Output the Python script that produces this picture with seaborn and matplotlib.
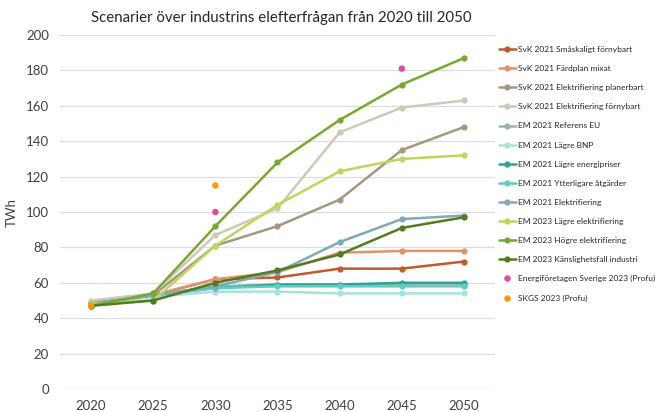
import matplotlib
matplotlib.use("Agg")
import matplotlib.pyplot as plt
import seaborn as sns
import pandas as pd

years = ["2020", "2025", "2030", "2035", "2040", "2045", "2050"]

series_names = [
    "SvK 2021 Småskaligt förnybart",
    "SvK 2021 Färdplan mixat",
    "SvK 2021 Elektrifiering planerbart",
    "SvK 2021 Elektrifiering förnybart",
    "EM 2021 Referens EU",
    "EM 2021 Lägre BNP",
    "EM 2021 Lägre energipriser",
    "EM 2021 Ytterligare åtgärder",
    "EM 2021 Elektrifiering",
    "EM 2023 Lägre elektrifiering",
    "EM 2023 Högre elektrifiering",
    "EM 2023 Känslighetsfall industri",
]

svk_smaskaligt = [48, 53, 62, 63, 68, 68, 72]
svk_fardplan = [48, 53, 62, 66, 77, 78, 78]
svk_planerbart = [49, 53, 81, 92, 107, 135, 148]
svk_fornybart = [50, 54, 87, 102, 145, 159, 163]
em_referens = [48, 53, 58, 59, 59, 59, 59]
em_lagre_bnp = [48, 52, 55, 55, 54, 54, 54]
em_energipriser = [48, 53, 57, 59, 59, 60, 60]
em_ytterligare = [48, 53, 57, 58, 58, 58, 58]
em_elektrifiering = [48, 53, 58, 66, 83, 96, 98]
em23_lagre = [48, 50, 81, 104, 123, 130, 132]
em23_hogre = [47, 54, 92, 128, 152, 172, 187]
em23_kanslighet = [47, 50, 60, 67, 76, 91, 97]

series_values = [
    svk_smaskaligt, svk_fardplan, svk_planerbart, svk_fornybart,
    em_referens, em_lagre_bnp, em_energipriser, em_ytterligare,
    em_elektrifiering, em23_lagre, em23_hogre, em23_kanslighet,
]

series_colors = [
    "#C4592A", "#E3936B", "#A6977F", "#D2C8B9",
    "#9DB7A2", "#A9E2DD", "#2BA595", "#5FCDC4",
    "#7FAAB6", "#BDD75B", "#78A832", "#537B22",
]

point_names = ["Energiföretagen Sverige 2023 (Profu)", "SKGS 2023 (Profu)"]
energiforetagen_years = ["2030", "2045"]
energiforetagen_values = [100, 181]
skgs_years = ["2020", "2030"]
skgs_values = [47, 115]
point_colors = ["#D94FA3", "#FF9A00"]

# Long-format tables for seaborn
rows = []
for name, vals in zip(series_names, series_values):
    for yr, v in zip(years, vals):
        rows.append({"Scenario": name, "pos": years.index(yr), "TWh": v})
lines_df = pd.DataFrame(rows)

prow = []
for yr, v in zip(energiforetagen_years, energiforetagen_values):
    prow.append({"Scenario": point_names[0], "pos": years.index(yr), "TWh": v})
for yr, v in zip(skgs_years, skgs_values):
    prow.append({"Scenario": point_names[1], "pos": years.index(yr), "TWh": v})
points_df = pd.DataFrame(prow)

sns.set_theme(style="white")
plt.rcParams["font.family"] = ["Lato", "DejaVu Sans"]

fig = plt.figure(figsize=(6.56, 4.12), dpi=100)
ax = fig.add_axes([60 / 656, 1 - 389 / 412, 435 / 656, 354 / 412])

sns.lineplot(
    data=lines_df, x="pos", y="TWh", hue="Scenario", hue_order=series_names,
    palette=dict(zip(series_names, series_colors)), marker="o", markersize=4.5,
    markeredgewidth=0, linewidth=1.8, dashes=False, ax=ax, legend=True,
)
sns.scatterplot(
    data=points_df, x="pos", y="TWh", hue="Scenario", hue_order=point_names,
    palette=dict(zip(point_names, point_colors)), s=22, linewidth=0,
    ax=ax, legend=True, zorder=5,
)

ax.set_xlim(-0.5, len(years) - 0.5)
ax.set_ylim(0, 200)
ax.set_xticks(range(len(years)))
ax.set_xticklabels(years)
ax.set_yticks(range(0, 201, 20))
ax.tick_params(axis="both", length=0, labelsize=9.5, colors="#404040", pad=8)
ax.grid(axis="y", color="#DDDDDD", linewidth=0.9)
ax.set_axisbelow(True)
for sp in ax.spines.values():
    sp.set_visible(False)
ax.set_xlabel("")
ax.set_ylabel("TWh", fontsize=9.5, color="#404040", labelpad=6)

handles, labels = ax.get_legend_handles_labels()
ax.legend(
    handles, labels, loc="upper left", bbox_to_anchor=(0.995, 0.985),
    frameon=False, fontsize=6.0, labelspacing=1.45, handlelength=2.1,
    handletextpad=0.25, borderaxespad=0.3,
)

fig.text(281 / 656, 1 - 18 / 412, "Scenarier över industrins elefterfrågan från 2020 till 2050",
         ha="center", va="center", fontsize=10.8, color="#262626")

fig.savefig("out.png", dpi=100)
